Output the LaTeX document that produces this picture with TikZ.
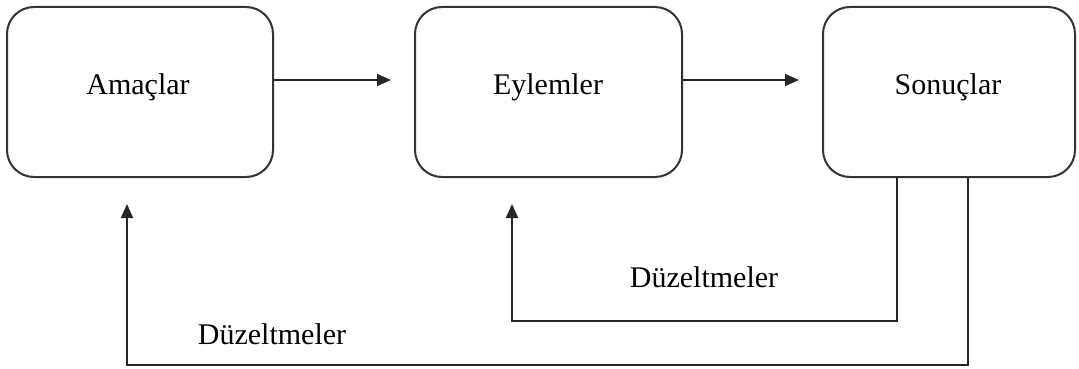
\documentclass[tikz,border=0pt]{standalone}
\usepackage{fontspec}
\setmainfont{Liberation Serif}
\usetikzlibrary{arrows.meta}
\begin{document}
\begin{tikzpicture}[x=1pt,y=-1pt,
  box/.style={draw=black!80, line width=2pt, rounded corners=27pt, minimum height=170pt, inner sep=0pt},
  txt/.style={anchor=base, inner sep=0pt, font=\fontsize{30}{36}\selectfont},
  arr/.style={draw=black!85, line width=2pt, -{Triangle[length=14pt,width=12pt]}}]
\useasboundingbox (0,0) rectangle (1079,369);
\node[box, minimum width=266pt] (a) at (140,92) {};
\node[box, minimum width=267pt] (e) at (548.5,92) {};
\node[box, minimum width=252pt] (s) at (949,92) {};
\node[txt] (ta) at (138,94) {Amaçlar};
\node[txt] (te) at (548,94) {Eylemler};
\node[txt] (ts) at (948,94) {Sonuçlar};
\draw[arr, shorten >=23pt] ([yshift=12pt]a.east) -- ([yshift=12pt]e.west);
\draw[arr, shorten >=23pt] ([yshift=12pt]e.east) -- ([yshift=12pt]s.west);
\draw[arr, shorten >=26pt] ([xshift=-52pt]s.south) -- ++(0,143) -| ([xshift=-36.5pt]e.south);
\draw[arr, shorten >=26pt] ([xshift=19pt]s.south) -- ++(0,187) -| ([xshift=-13pt]a.south);
\node[txt] (l1) at (704,287) {Düzeltmeler};
\node[txt] (l2) at (272,344) {Düzeltmeler};
\end{tikzpicture}
\end{document}
